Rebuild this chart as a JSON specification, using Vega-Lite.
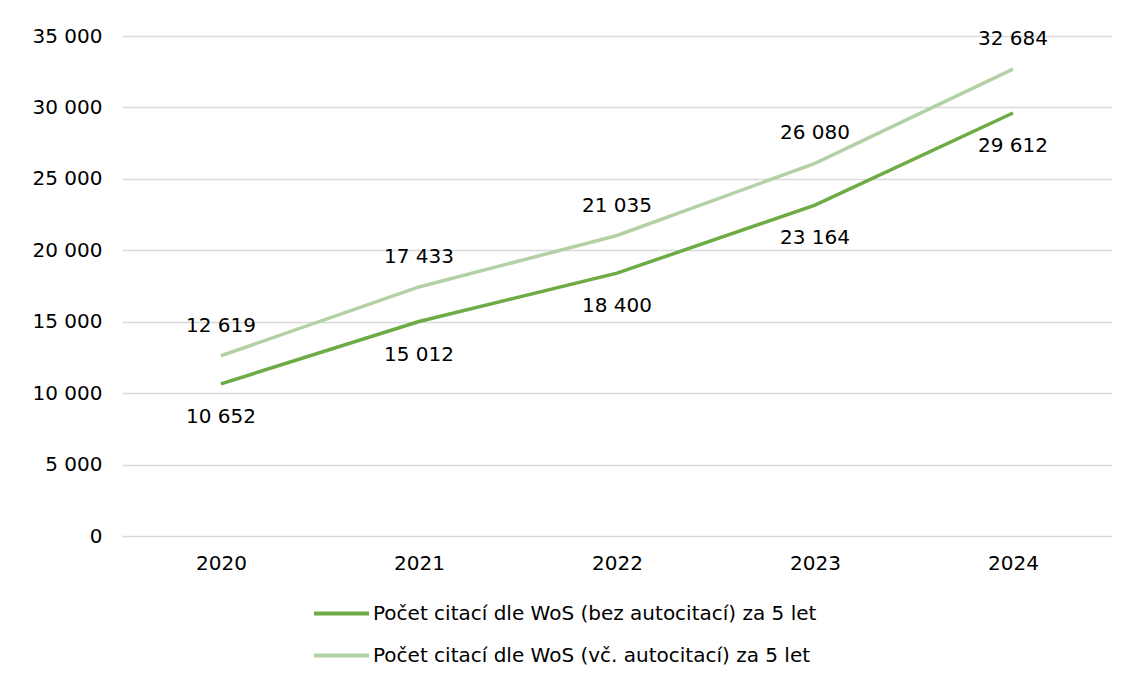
{
  "$schema": "https://vega.github.io/schema/vega-lite/v6.json",
  "width": 990,
  "height": 500,
  "autosize": {"type": "none"},
  "padding": {"left": 122, "top": 36, "right": 22, "bottom": 146},
  "background": "white",
  "config": {
    "font": "DejaVu Sans",
    "view": {"stroke": null},
    "locale": {"number": {"decimal": ",", "thousands": " ", "grouping": [3], "currency": ["", " Kč"]}},
    "axis": {"labelFont": "DejaVu Sans", "labelFontSize": 20, "labelColor": "#000000", "domain": false, "ticks": false, "title": null}
  },
  "data": {
    "values": [
      {"rok": "2020", "serie": "Počet citací dle WoS (bez autocitací) za 5 let", "hodnota": 10652},
      {"rok": "2021", "serie": "Počet citací dle WoS (bez autocitací) za 5 let", "hodnota": 15012},
      {"rok": "2022", "serie": "Počet citací dle WoS (bez autocitací) za 5 let", "hodnota": 18400},
      {"rok": "2023", "serie": "Počet citací dle WoS (bez autocitací) za 5 let", "hodnota": 23164},
      {"rok": "2024", "serie": "Počet citací dle WoS (bez autocitací) za 5 let", "hodnota": 29612},
      {"rok": "2020", "serie": "Počet citací dle WoS (vč. autocitací) za 5 let", "hodnota": 12619},
      {"rok": "2021", "serie": "Počet citací dle WoS (vč. autocitací) za 5 let", "hodnota": 17433},
      {"rok": "2022", "serie": "Počet citací dle WoS (vč. autocitací) za 5 let", "hodnota": 21035},
      {"rok": "2023", "serie": "Počet citací dle WoS (vč. autocitací) za 5 let", "hodnota": 26080},
      {"rok": "2024", "serie": "Počet citací dle WoS (vč. autocitací) za 5 let", "hodnota": 32684}
    ]
  },
  "encoding": {
    "x": {"field": "rok", "type": "ordinal", "scale": {"type": "point", "padding": 0.5}, "axis": {"labelAngle": 0, "labelPadding": 17, "grid": false}},
    "y": {"field": "hodnota", "type": "quantitative", "scale": {"domain": [0, 35000], "nice": false}, "axis": {"values": [0, 5000, 10000, 15000, 20000, 25000, 30000, 35000], "format": ",.0f", "labelPadding": 20, "grid": true, "gridColor": "#d9d9d9", "gridWidth": 1.5}}
  },
  "layer": [
    {
      "mark": {"type": "line", "strokeWidth": 3.5},
      "encoding": {
        "color": {
          "field": "serie", "type": "nominal",
          "scale": {"domain": ["Počet citací dle WoS (bez autocitací) za 5 let", "Počet citací dle WoS (vč. autocitací) za 5 let"], "range": ["#6dab45", "#b4d1a5"]},
          "legend": {
            "title": null, "orient": "none", "legendX": 190, "legendY": 548,
            "symbolType": "stroke", "symbolSize": 3025, "symbolStrokeWidth": 4,
            "labelFont": "DejaVu Sans", "labelFontSize": 20, "labelColor": "#000000", "labelOffset": 2, "rowPadding": 2, "labelLimit": 700
          }
        }
      }
    },
    {
      "transform": [{"filter": "datum.serie === 'Počet citací dle WoS (bez autocitací) za 5 let'"}],
      "mark": {"type": "text", "dy": 33, "fontSize": 20, "font": "DejaVu Sans", "color": "#000000"},
      "encoding": {"text": {"field": "hodnota", "type": "quantitative", "format": ",.0f"}}
    },
    {
      "transform": [{"filter": "datum.serie === 'Počet citací dle WoS (vč. autocitací) za 5 let'"}],
      "mark": {"type": "text", "dy": -30, "fontSize": 20, "font": "DejaVu Sans", "color": "#000000"},
      "encoding": {"text": {"field": "hodnota", "type": "quantitative", "format": ",.0f"}}
    }
  ]
}
